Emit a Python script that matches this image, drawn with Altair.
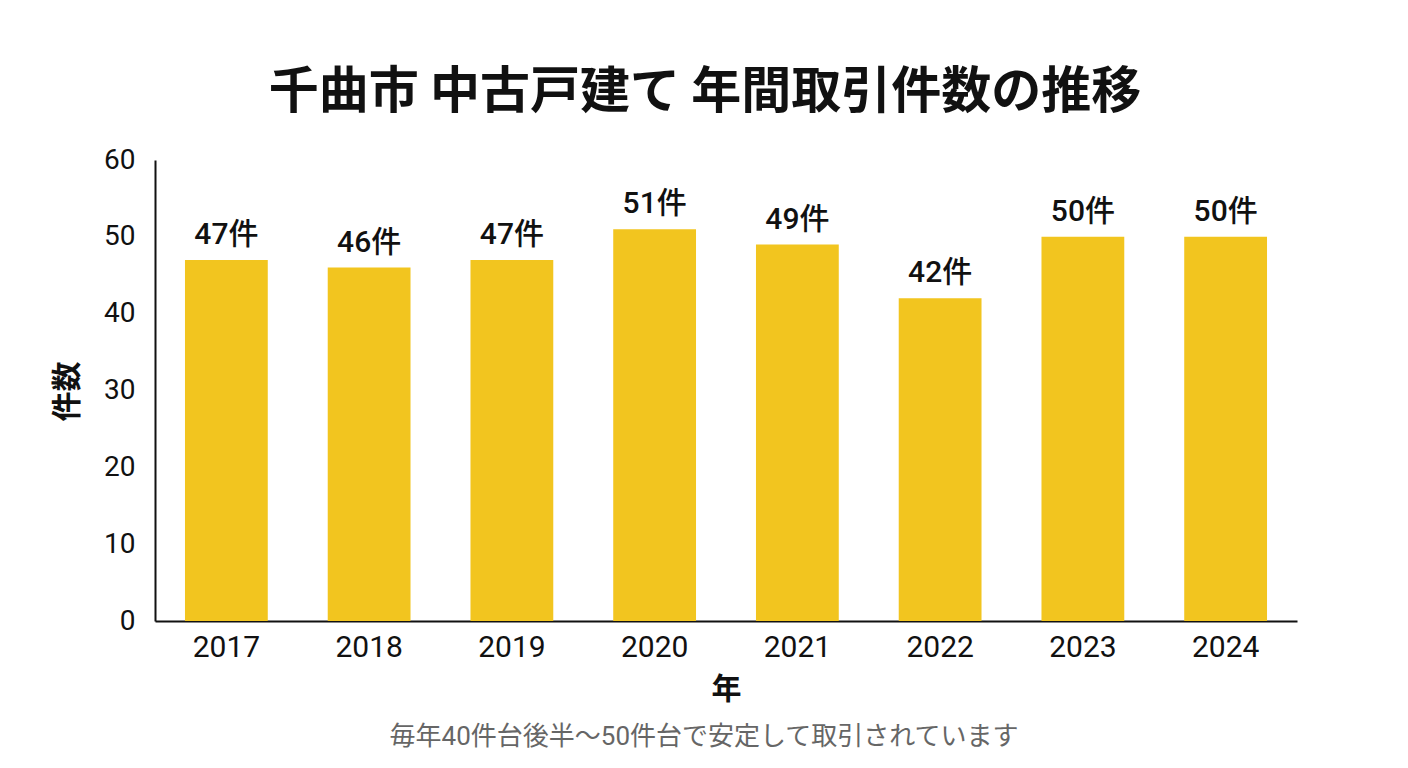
import altair as alt
import pandas as pd

years = ["2017", "2018", "2019", "2020", "2021", "2022", "2023", "2024"]
counts = [47, 46, 47, 51, 49, 42, 50, 50]
labels = [f"{c}件" for c in counts]

df = pd.DataFrame({"年": years, "件数": counts, "label": labels})

FONT = "Roboto, 'Noto Sans CJK JP', sans-serif"
CJK = "'Noto Sans CJK JP', sans-serif"
W, H = 1142, 461

base = alt.Chart(df).encode(
    x=alt.X("年:N", sort=years, title="年",
            scale=alt.Scale(paddingInner=0.42, paddingOuter=0.21),
            axis=alt.Axis(labelAngle=0, labelFontSize=30, labelColor="#111",
                          labelPadding=11, ticks=False, domainColor="#111",
                          domainWidth=2, titleFontSize=30, titleFontWeight="bold",
                          titlePadding=12, titleColor="#111", labelFont=FONT, titleFont=CJK)),
    y=alt.Y("件数:Q", title="件数",
            scale=alt.Scale(domain=[0, 60]),
            axis=alt.Axis(values=[0, 10, 20, 30, 40, 50, 60], grid=False, ticks=False,
                          labelFontSize=28, labelColor="#111", labelPadding=20,
                          domainColor="#111", domainWidth=2,
                          titleFontSize=30, titleFontWeight="bold", titleColor="#111",
                          titleX=-88, titleY=231, titleBaseline="middle", titleAngle=-90,
                          labelFont=FONT, titleFont=CJK)),
)

bars = base.mark_bar(color="#F2C51F")

text = base.mark_text(dy=-10, baseline="bottom", fontSize=30, fontWeight=500,
                      font=FONT, color="#111").encode(text="label:N")

note = alt.Chart(pd.DataFrame({"t": ["毎年40件台後半〜50件台で安定して取引されています"]})).mark_text(
    fontSize=26, font=FONT, color="#666", baseline="middle", align="center"
).encode(text="t:N", x=alt.value(549), y=alt.value(577))

chart = alt.layer(bars, text, note).properties(
    width=W, height=H,
    background="white",
    title=alt.TitleParams("千曲市 中古戸建て 年間取引件数の推移", fontSize=50, font=CJK,
                          fontWeight="bold", color="#111", anchor="middle", dx=-21, offset=28),
    autosize=alt.AutoSizeParams(type="none"),
    padding={"left": 147, "top": 152, "right": 95, "bottom": 131},
).configure_view(strokeWidth=0, stroke=None)

chart.save("out.html", embed_options={"renderer": "svg", "actions": False})
